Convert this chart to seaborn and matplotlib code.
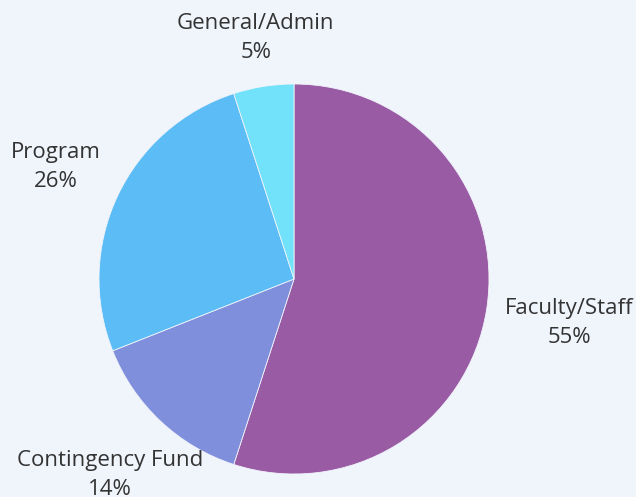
import numpy as np
import matplotlib.pyplot as plt
import seaborn as sns

categories = ["Faculty/Staff", "Contingency Fund", "Program", "General/Admin"]
shares = [55, 14, 26, 5]
colors = ["#9A5BA5", "#7F8FDC", "#5CBCF5", "#72E2FA"]
label_dist = [1.43, 1.38, 1.35, 1.25]

sns.set_theme(style="white")
plt.rcParams["font.family"] = ["Open Sans", "DejaVu Sans"]

bg = "#F0F4FB"
fig = plt.figure(figsize=(6.36, 4.97), dpi=100, facecolor=bg)
ax = fig.add_axes([0, 0, 1, 1])
ax.set_facecolor(bg)

wedges, _ = ax.pie(
    shares,
    colors=colors,
    startangle=90,
    counterclock=False,
    radius=1,
    wedgeprops=dict(edgecolor=bg, linewidth=0.6),
)

for w, name, pct, d in zip(wedges, categories, shares, label_dist):
    ang = np.deg2rad((w.theta1 + w.theta2) / 2)
    ax.text(d * np.cos(ang), d * np.sin(ang), f"{name}\n{pct}%",
            ha="center", va="center", fontsize=16, color="#333333",
            linespacing=1.5)

# pixel-based framing: radius ~195px, centre at (294, 279)
ax.set_xlim(-294 / 195, (636 - 294) / 195)
ax.set_ylim(-(497 - 279) / 195, 279 / 195)
ax.set_aspect("auto")
ax.axis("off")

fig.savefig("out.png", dpi=100, facecolor=bg)
